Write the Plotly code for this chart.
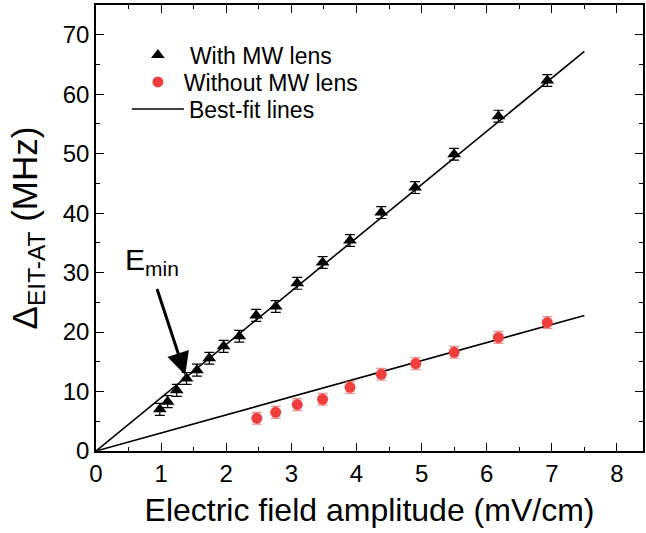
import plotly.graph_objects as go

# Data
E_with = [0.98, 1.10, 1.24, 1.39, 1.55, 1.74, 1.96, 2.20, 2.46, 2.76, 3.09, 3.48, 3.90, 4.38, 4.90, 5.50, 6.18, 6.93]
D_with = [7.0, 8.3, 10.2, 12.2, 13.6, 15.6, 17.6, 19.3, 22.8, 24.3, 28.2, 31.7, 35.4, 40.1, 44.3, 49.9, 56.3, 62.3]
err_with = [1.0] * len(E_with)

E_wo = [2.47, 2.76, 3.09, 3.48, 3.90, 4.38, 4.91, 5.50, 6.18, 6.93]
D_wo = [5.5, 6.5, 7.8, 8.7, 10.7, 12.9, 14.7, 16.6, 19.1, 21.6]
err_wo = [1.0] * len(E_wo)

fit_x = [0.0, 7.5]
slope_with = 8.96
slope_wo = 3.04

FONT = "Liberation Sans, Arial, sans-serif"
RED = "#EF3E3E"

fig = go.Figure()

fig.add_trace(go.Scatter(
    x=fit_x, y=[slope_with * v for v in fit_x], mode="lines",
    line=dict(color="black", width=1.6), name="Best-fit lines", showlegend=True,
    legend="legend3"))
fig.add_trace(go.Scatter(
    x=fit_x, y=[slope_wo * v for v in fit_x], mode="lines",
    line=dict(color="black", width=1.6), showlegend=False))

fig.add_trace(go.Scatter(
    x=E_with, y=D_with, mode="markers", name="With MW lens",
    marker=dict(symbol="triangle-up", size=12, color="black"),
    error_y=dict(type="data", array=err_with, color="black", thickness=1.2, width=5),
    legend="legend"))
fig.add_trace(go.Scatter(
    x=E_wo, y=D_wo, mode="markers", name="Without MW lens",
    marker=dict(symbol="circle", size=11, color=RED),
    error_y=dict(type="data", array=err_wo, color="rgba(239,62,62,0.6)", thickness=1.2, width=5),
    legend="legend2"))

# E_min annotation
fig.add_annotation(x=1.37, y=12.8, ax=0.93, ay=27.5, axref="x", ayref="y",
                   xref="x", yref="y", text="", showarrow=True,
                   arrowhead=2, arrowsize=1.5, arrowwidth=3, arrowcolor="black", standoff=0, startstandoff=0)
fig.add_annotation(x=0.41, y=28.4, xref="x", yref="y", xanchor="left", yanchor="bottom",
                   text="E<sub>min</sub>", showarrow=False,
                   font=dict(family=FONT, size=30, color="black"))

axis_common = dict(
    showline=True, linecolor="black", linewidth=1.5, mirror="allticks",
    ticks="inside", ticklen=8, tickwidth=1.3, tickcolor="black",
    showgrid=False, zeroline=False,
    tickfont=dict(family=FONT, size=24, color="black"),
)

fig.update_xaxes(range=[0, 8.4], dtick=1, tick0=0,
                 minor=dict(dtick=0.5, ticks="inside", ticklen=4, tickwidth=1.3, tickcolor="black"),
                 title=dict(text="Electric field amplitude (mV/cm)",
                            font=dict(family=FONT, size=32, color="black"), standoff=13),
                 **axis_common)
fig.update_yaxes(range=[0, 75], dtick=10, tick0=0,
                 minor=dict(dtick=5, ticks="inside", ticklen=4, tickwidth=1.3, tickcolor="black"),
                 title=dict(text="Δ<sub>EIT-AT</sub> (MHz)",
                            font=dict(family=FONT, size=35, color="black"), standoff=14),
                 **axis_common)

leg_common = dict(xanchor="left", yanchor="middle", bgcolor="rgba(0,0,0,0)",
                  font=dict(family=FONT, size=23, color="black"))


def px_x(p):
    return (p - 96) / 549.0


def px_y(p):
    return (451 - p) / 446.0


fig.update_layout(
    width=646, height=533,
    margin=dict(l=96, r=1, t=5, b=82),
    paper_bgcolor="white", plot_bgcolor="white",
    font=dict(family=FONT, color="black"),
    legend=dict(x=px_x(126), y=px_y(55), itemwidth=54, **leg_common),
    legend2=dict(x=px_x(132), y=px_y(82), itemwidth=42, **leg_common),
    legend3=dict(x=px_x(127), y=px_y(109), itemwidth=52, **leg_common),
)

fig.write_html("out.html")
